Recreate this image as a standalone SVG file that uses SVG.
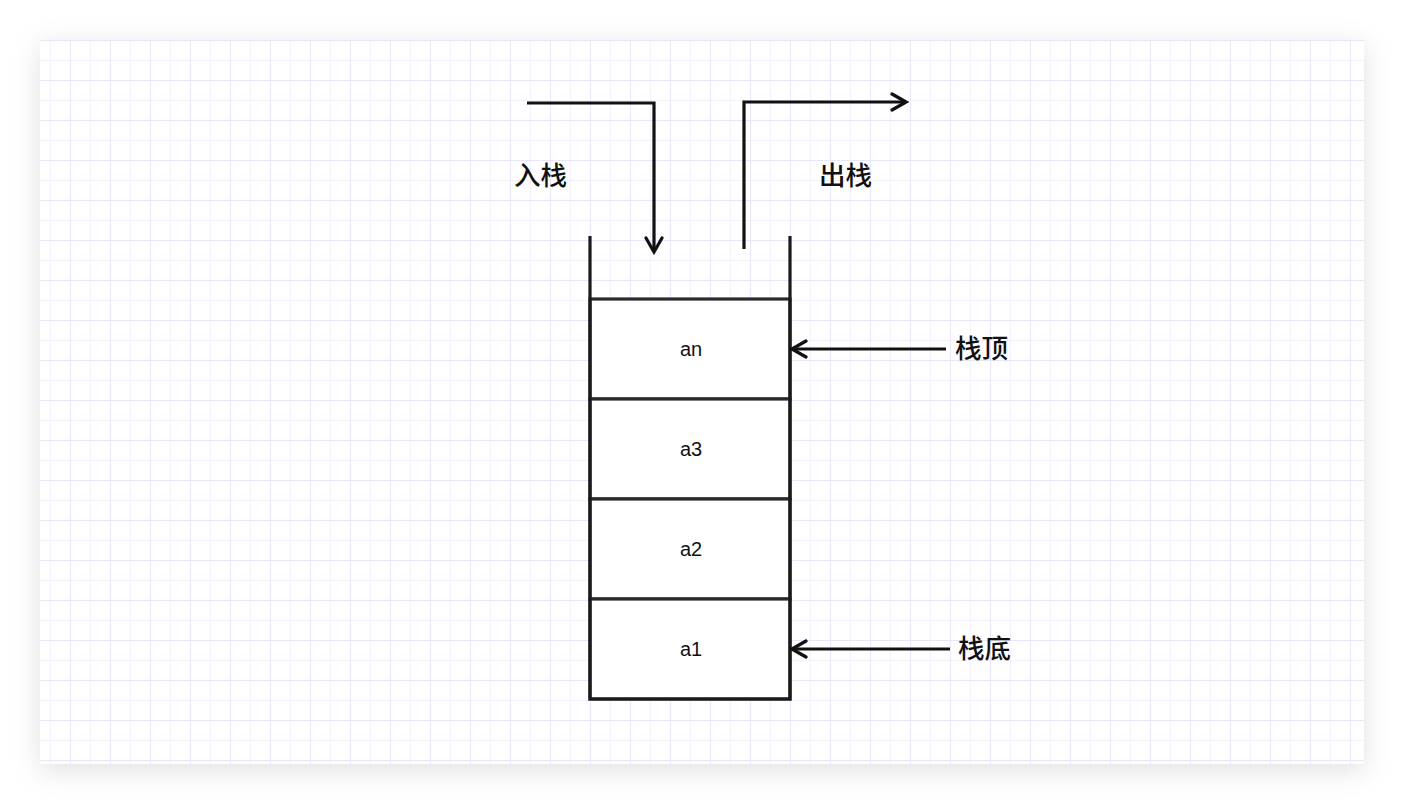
<svg xmlns="http://www.w3.org/2000/svg" width="1404" height="804" viewBox="0 0 1404 804">
<defs>
<pattern id="minor" x="10" y="0" width="20" height="20" patternUnits="userSpaceOnUse">
<path d="M0 0V20M0 0H20" fill="none" stroke="#f3f1fd" stroke-width="2"/>
</pattern>
<pattern id="major" x="30" y="0" width="40" height="40" patternUnits="userSpaceOnUse">
<path d="M0 0V40M0 0H40" fill="none" stroke="#e9e6fb" stroke-width="2"/>
</pattern>
<filter id="shadow" x="-10%" y="-10%" width="120%" height="125%">
<feDropShadow dx="0" dy="6" stdDeviation="14" flood-color="#000" flood-opacity="0.12"/>
</filter>
<marker id="arrow" viewBox="0 0 20 20" refX="17" refY="10" markerWidth="20" markerHeight="20" markerUnits="userSpaceOnUse" orient="auto">
<path d="M3 2L17 10L3 18" fill="none" stroke="#111" stroke-width="3.2" stroke-linecap="round" stroke-linejoin="miter"/>
</marker>
</defs>
<style>
.line{fill:none;stroke:#1a1a1a;stroke-width:3.2}
.cell{fill:#fff;stroke:#2a2a2a;stroke-width:3.2}
.lbl{font-family:"Liberation Sans",Arial,sans-serif;font-size:20px;fill:#111;text-anchor:middle;dominant-baseline:central}
.cn{font-family:"Noto Sans CJK SC","Noto Sans",sans-serif;font-size:26.5px;font-weight:500;fill:#111;dominant-baseline:central}
.conn{fill:none;stroke:#111;stroke-width:3.2;marker-end:url(#arrow)}
</style>
<rect x="0" y="0" width="1404" height="804" fill="#fff"/>
<rect x="40" y="40" width="1324" height="724" fill="#fff" filter="url(#shadow)"/>
<rect x="40" y="40" width="1324" height="724" fill="url(#minor)"/>
<rect x="40" y="40" width="1324" height="724" fill="url(#major)"/>
<g id="cell-an"><rect class="cell" x="590" y="299" width="200" height="100"/><text class="lbl" x="691" y="349">an</text></g>
<g id="cell-a3"><rect class="cell" x="590" y="399" width="200" height="100"/><text class="lbl" x="691" y="449">a3</text></g>
<g id="cell-a2"><rect class="cell" x="590" y="499" width="200" height="100"/><text class="lbl" x="691" y="549">a2</text></g>
<g id="cell-a1"><rect class="cell" x="590" y="599" width="200" height="100"/><text class="lbl" x="691" y="649">a1</text></g>
<g id="stack-walls">
<path class="line" d="M590 236V700M790 236V700M588.5 699H791.5"/>
</g>
<g id="label-push"><text class="cn" x="514" y="173">入栈</text></g>
<g id="label-pop"><text class="cn" x="819" y="173">出栈</text></g>
<g id="label-top"><text class="cn" x="955" y="346">栈顶</text></g>
<g id="label-bottom"><text class="cn" x="958" y="646">栈底</text></g>
<g id="connectors">
<path class="conn" d="M527 103H654V252"/>
<path class="conn" d="M744 249V102H906"/>
<path class="conn" d="M946 349H792"/>
<path class="conn" d="M950 649H792"/>
</g>
</svg>
